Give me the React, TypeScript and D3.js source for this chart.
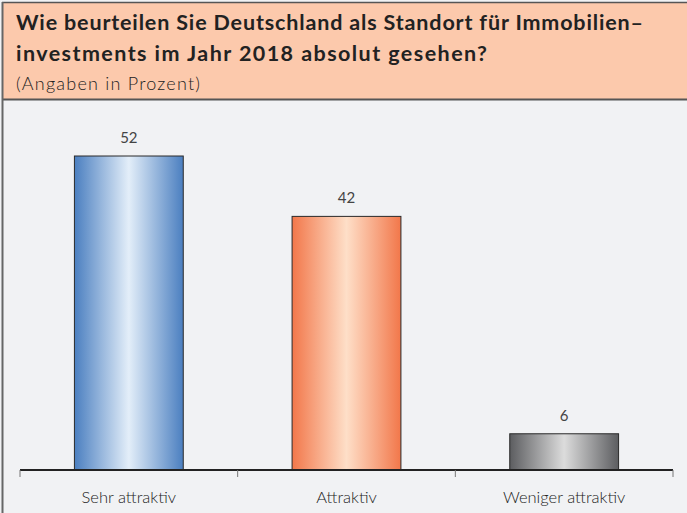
import React from "react";
import * as d3 from "d3";

const categories = ["Sehr attraktiv", "Attraktiv", "Weniger attraktiv"];
const values = [52, 42, 6];
const titleLines = [
  "Wie beurteilen Sie Deutschland als Standort für Immobilien–",
  "investments im Jahr 2018 absolut gesehen?",
];
const titleWidths = [627, 471];
const subtitle = "(Angaben in Prozent)";

// gradient stops per bar: edge, middle
const barColors = [
  { edge: "#4b7fc0", mid: "#e3eef9" },
  { edge: "#f2774a", mid: "#fedfc8" },
  { edge: "#5c5d60", mid: "#dcdcdc" },
];

const W = 687;
const H = 513;

export default function App() {
  const x = d3.scaleBand<string>().domain(categories).range([20, 673]).paddingInner(0).paddingOuter(0);
  const y = d3.scaleLinear().domain([0, 60]).range([470, 107.7]);
  const bw = x.bandwidth() * 0.5;
  const font = "Lato, 'Open Sans', sans-serif";

  return (
    <svg
      width={W}
      height={H}
      style={{ position: "absolute", left: 0, top: 0 }}
      fontFamily={font}
    >
      <defs>
        {barColors.map((c, i) => (
          <linearGradient id={`g${i}`} key={i} x1="0" x2="1" y1="0" y2="0">
            <stop offset="0" stopColor={c.edge} />
            <stop offset="0.5" stopColor={c.mid} />
            <stop offset="1" stopColor={c.edge} />
          </linearGradient>
        ))}
      </defs>
      <rect x={0} y={0} width={W} height={H} fill="#f1f2f4" />
      <rect x={3} y={2} width={W} height={98} fill="#fcc9ac" />
      <line x1={2} x2={W} y1={2.5} y2={2.5} stroke="#555" strokeWidth={1.5} />
      <line x1={2} x2={W} y1={99.5} y2={99.5} stroke="#555" strokeWidth={2} />
      <line x1={2.5} x2={2.5} y1={2} y2={H} stroke="#666" strokeWidth={2} />

      {titleLines.map((t, i) => (
        <text
          key={i}
          x={16}
          y={30 + i * 31}
          fontSize={21.5}
          fontWeight={700}
          fill="#222"
          textLength={titleWidths[i]}
          lengthAdjust="spacing"
        >
          {t}
        </text>
      ))}
      <text x={16} y={90} fontSize={18} fontWeight={300} fill="#222" textLength={184} lengthAdjust="spacing">
        {subtitle}
      </text>

      {categories.map((c, i) => {
        const cx = (x(c) ?? 0) + x.bandwidth() / 2;
        return (
          <g key={c}>
            <rect
              x={cx - bw / 2}
              y={y(values[i])}
              width={bw}
              height={y(0) - y(values[i])}
              fill={`url(#g${i})`}
              stroke="#2a2a2a"
              strokeWidth={1}
            />
            <text x={cx} y={y(values[i]) - 13} textAnchor="middle" fontSize={15} fontWeight={400} fill="#444">
              {values[i]}
            </text>
            <text x={cx} y={503} textAnchor="middle" fontSize={16.5} fontWeight={300} fill="#222">
              {c}
            </text>
          </g>
        );
      })}

      <line x1={20} x2={673} y1={470} y2={470} stroke="#222" strokeWidth={2} />
      {[...categories.map((c) => x(c) ?? 0), 673].map((t, i) => (
        <line key={i} x1={t} x2={t} y1={470} y2={477} stroke="#777" strokeWidth={1} />
      ))}
    </svg>
  );
}
